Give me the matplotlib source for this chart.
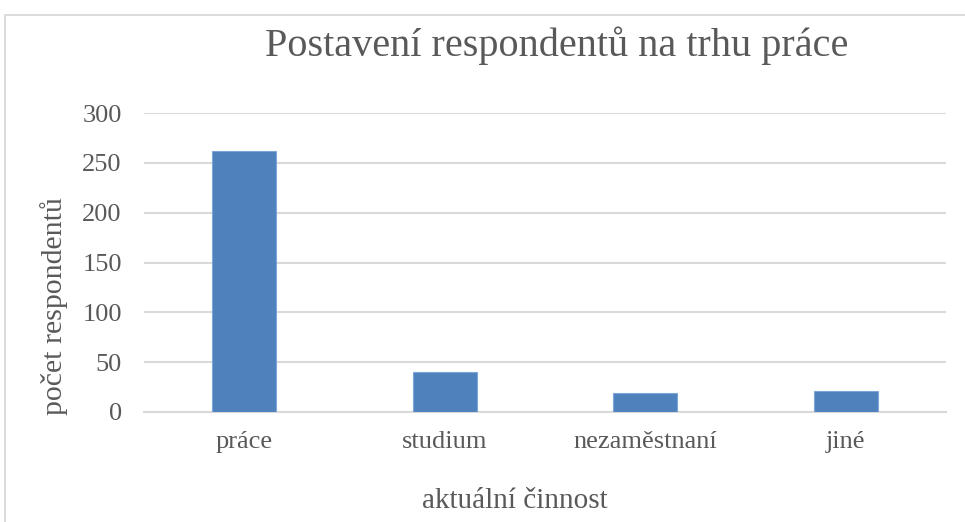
import matplotlib
matplotlib.use("Agg")
import matplotlib.pyplot as plt
from matplotlib.patches import Rectangle

categories = ["práce", "studium", "nezaměstnaní", "jiné"]
values = [262, 40, 19, 21]
yticks = [0, 50, 100, 150, 200, 250, 300]

plt.rcParams['font.family'] = ['Liberation Serif', 'DejaVu Serif']
txt = '#595959'
grid = '#d9d9d9'

fig = plt.figure(figsize=(9.65, 5.22), dpi=100)
W, H = 965, 522
fig.patches.append(Rectangle((5/W, -0.05), 1, 1.05 - 15/H, transform=fig.transFigure,
                             fill=False, edgecolor=grid, linewidth=1.3))

ax = fig.add_axes([144/W, 1 - 412/H, (946-144)/W, (412-113)/H])
x = range(len(categories))
ax.bar(x, values, width=0.32, color='#4f81bd', edgecolor='#7ea6d8', linewidth=0.8, zorder=3)
ax.set_xlim(-0.5, len(categories) - 0.5)
ax.set_ylim(0, 300)
ax.set_yticks(yticks)
ax.set_xticks(list(x))
ax.set_xticklabels(categories)
ax.yaxis.grid(True, color=grid, linewidth=1.5, zorder=0)
for s in ['top', 'right', 'left']:
    ax.spines[s].set_visible(False)
ax.spines['bottom'].set_color(grid)
ax.spines['bottom'].set_linewidth(1.5)
ax.tick_params(axis='both', length=0, colors=txt, labelsize=19)
ax.tick_params(axis='y', pad=16)
ax.tick_params(axis='x', pad=14)

fig.text(557/W, 1 - 46/H, "Postavení respondentů na trhu práce", ha='center', va='center',
         fontsize=29, color=txt)
fig.text(54/W, 1 - 306/H, "počet respondentů", rotation=90, ha='center', va='center',
         fontsize=21.5, color=txt)
fig.text(515/W, 1 - 501/H, "aktuální činnost", ha='center', va='center',
         fontsize=21, color=txt)

fig.savefig("out.png", dpi=100)
